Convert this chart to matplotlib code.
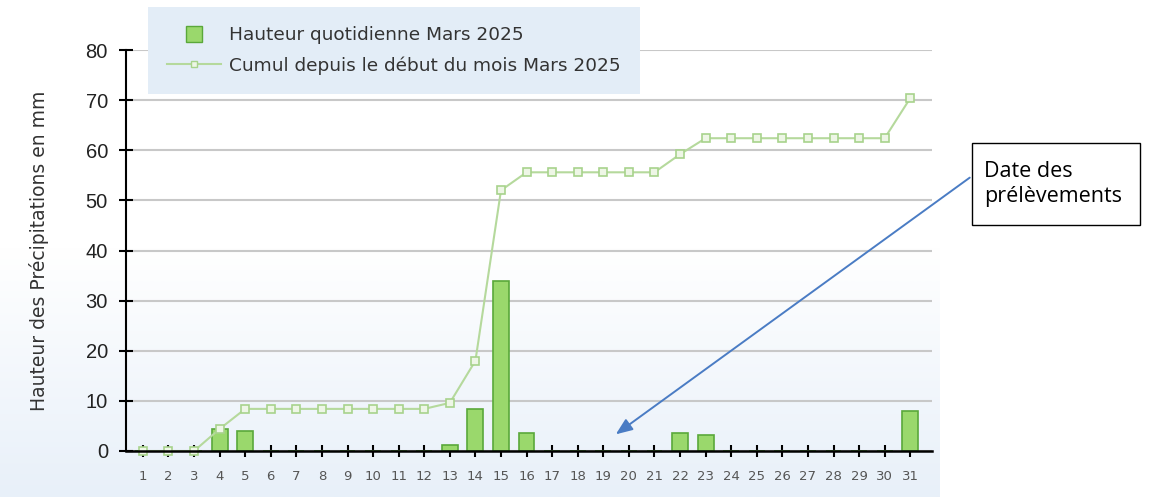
import numpy as np
import matplotlib
matplotlib.use("Agg")
import matplotlib.pyplot as plt
from matplotlib.lines import Line2D
from matplotlib.patches import Rectangle

# ======== données ========
jours = list(range(1, 32))
hauteur = [0, 0, 0, 4.4, 4.0, 0, 0, 0, 0, 0, 0, 0, 1.2, 8.4, 34.0, 3.6,
           0, 0, 0, 0, 0, 3.6, 3.2, 0, 0, 0, 0, 0, 0, 0, 8.0]
cumul = [0, 0, 0, 4.4, 8.4, 8.4, 8.4, 8.4, 8.4, 8.4, 8.4, 8.4, 9.6, 18.0, 52.0, 55.6,
         55.6, 55.6, 55.6, 55.6, 55.6, 59.2, 62.4, 62.4, 62.4, 62.4, 62.4, 62.4, 62.4, 62.4, 70.4]
yticks = [0, 10, 20, 30, 40, 50, 60, 70, 80]
label_bar = "Hauteur quotidienne Mars 2025"
label_line = "Cumul depuis le début du mois Mars 2025"
note = "Date des\nprélèvements"
jour_note, valeur_note = 19.4, 3.0

W, H = 1160, 497
fig = plt.figure(figsize=(W / 100, H / 100), dpi=100)

# fond dégradé derrière le graphique
bg = fig.add_axes([0, 0, 940 / W, 1], zorder=-2)
grad = np.linspace(0, 1, 256)[:, None]
cmap = matplotlib.colors.LinearSegmentedColormap.from_list("bg", ["#ffffff", "#ffffff", "#e8f0f9"])
bg.imshow(grad, aspect="auto", cmap=cmap, extent=[0, 1, 0, 1], origin="upper")
bg.axis("off")

ax = fig.add_axes([126 / W, 46 / H, (932 - 126) / W, (451 - 50) / H])
ax.set_facecolor("none")

ax.bar(jours, hauteur, width=0.62, color="#9ad86c", edgecolor="#5aa83a", linewidth=1.2, zorder=3)
ax.plot(jours, cumul, color="#b5d99c", lw=1.5, marker="s", markersize=5.2,
        markerfacecolor="#eef6e6", markeredgecolor="#a8d38c", markeredgewidth=1.2, zorder=4,
        clip_on=False)

ax.set_xlim(0.34, 31.85)
ax.set_ylim(0, 80)
ax.set_yticks(yticks)
ax.set_xticks(jours)
ax.grid(axis="y", color="#c8c8c8", lw=1.5)
ax.set_axisbelow(True)
for s in ["top", "right"]:
    ax.spines[s].set_visible(False)
ax.spines["left"].set_linewidth(1.5)
ax.spines["bottom"].set_linewidth(1.8)
ax.spines["bottom"].set_zorder(5)
ax.tick_params(axis="y", direction="inout", length=10, width=1.5, labelsize=14.5, pad=8)
ax.tick_params(axis="x", direction="inout", length=9, width=1.5, labelsize=9.5,
               labelcolor="#555555", pad=9)
for t in ax.get_yticklabels():
    t.set_fontfamily("Liberation Sans")
    t.set_color("#222222")
ax.set_ylabel("Hauteur des Précipitations en mm", fontsize=13.5, color="#333333", labelpad=26)

# légende (carré pour les barres, ligne + marqueur pour le cumul)
handles = [Line2D([], [], ls="none", marker="s", markersize=11,
                  markerfacecolor="#9ad86c", markeredgecolor="#5aa83a", label=label_bar),
           Line2D([], [], color="#b5d99c", lw=1.5, marker="s", markersize=5,
                  markerfacecolor="#eef6e6", markeredgecolor="#a8d38c", label=label_line)]
leg = fig.legend(handles=handles, loc="upper left", bbox_to_anchor=(148 / W, 1 - 7 / H),
                 fontsize=13.3, frameon=True, fancybox=False, handlelength=2.9,
                 handletextpad=0.45, borderpad=1.05, labelspacing=0.65,
                 borderaxespad=0)
leg.get_frame().set_facecolor("#e3edf7")
leg.get_frame().set_edgecolor("none")
leg.get_frame().set_alpha(1)
for t in leg.get_texts():
    t.set_color("#333333")

# encadré et flèche
fig.patches.append(Rectangle((972 / W, 1 - 225 / H), (1140 - 972) / W, (225 - 143) / H,
                             transform=fig.transFigure, facecolor="white",
                             edgecolor="black", lw=1.0))
fig.text(984 / W, 1 - 184 / H, note, fontsize=15.5, family="Open Sans", va="center",
         ha="left", linespacing=1.25)
ax.annotate("", xy=(jour_note, valeur_note), xycoords="data",
            xytext=(972 / W, 1 - 176 / H), textcoords="figure fraction",
            arrowprops=dict(arrowstyle="-|>,head_length=1.0,head_width=0.4",
                            color="#4a7cc4", lw=1.4), annotation_clip=False)

fig.savefig("out.png", dpi=100)
